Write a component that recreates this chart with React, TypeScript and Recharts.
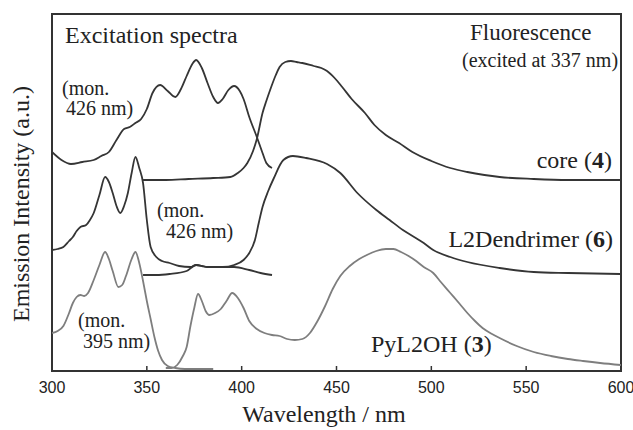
import React from 'react';
import { LineChart, Line, XAxis, YAxis, Customized, ReferenceLine } from 'recharts';

// Wavelength (nm), intensity (a.u., offset traces)
const coreExcitation: number[][] = [
  [300, 219], [305, 211], [310, 207], [316, 209], [322, 211], [326, 215], [330, 219], [334, 231],
  [338, 242], [341, 244], [344, 248], [347, 252], [350, 262], [353, 278], [357, 286], [361, 280],
  [365, 274], [368, 282], [371, 295], [374, 307], [376, 311], [379, 303], [382, 288], [385, 274],
  [387.5, 268], [390, 272], [393, 281], [396, 285], [399, 280], [401, 272], [404, 254], [408, 234],
  [411, 218], [413, 208], [416, 203],
];
const coreFluorescence: number[][] = [
  [348, 191], [360, 191], [372, 192], [385, 193], [394, 194], [398, 198], [401, 203], [403, 208],
  [406, 220], [408, 232], [411, 258], [413, 270], [415, 281], [418, 296], [420, 304], [423, 309],
  [426, 310], [429, 309], [432, 308], [438, 305], [442, 303], [445, 300], [449, 293], [453, 284],
  [458, 272], [465, 258], [470, 246], [476, 236], [483, 228], [490, 219], [500, 210], [510, 203],
  [519, 199], [528, 196], [536, 194], [554, 192], [572, 191], [600, 191],
];
const dendExcitation: number[][] = [
  [300, 121], [303, 122], [306, 124], [309, 130], [311, 134], [313, 140], [315, 144], [318, 146],
  [320, 151], [322, 158], [325, 176], [328, 194], [330, 189], [332, 178], [334, 165], [336, 158],
  [338, 165], [340, 178], [342, 198], [344, 214], [346, 203], [348, 188], [350, 151], [352, 124],
  [355, 114], [358, 110], [362, 108], [367, 105], [373, 104], [376, 106], [379, 105], [382, 104],
  [390, 104], [396, 104], [404, 101], [410, 98], [416, 96],
];
const dendFluorescence: number[][] = [
  [348, 96], [355, 96], [362, 97], [371, 100], [376, 106], [382, 104], [390, 104], [396, 106],
  [401, 111], [404, 118], [407, 131], [409, 148], [411, 164], [414, 180], [417, 193], [422, 211],
  [427, 215], [434, 213], [445, 207], [452, 198], [461, 178], [471, 161], [478, 151], [485, 141],
  [496, 128], [501, 121], [510, 114], [519, 109], [536, 103], [554, 99], [572, 98], [600, 97],
];
const pyExcitation: number[][] = [
  [300, 38], [303, 40], [306, 45], [309, 58], [311, 68], [313, 74], [315, 76], [317, 75],
  [319, 78], [322, 91], [325, 106], [328, 119], [330, 112], [332, 100], [335, 84], [337, 86],
  [339, 95], [342, 112], [344, 119], [346, 108], [348, 90], [350, 70], [352, 52], [354, 34],
  [356, 20], [358, 11], [361, 5], [365, 3], [370, 2], [378, 2], [385, 2],
];
const pyFluorescence: number[][] = [
  [360, 3], [363, 3], [366, 6], [369, 15], [371, 24], [373, 45], [375, 63], [377, 77],
  [379, 70], [381, 60], [383, 56], [386, 58], [389, 62], [392, 70], [395, 78], [398, 73],
  [401, 63], [404, 50], [408, 42], [412, 38], [416, 36], [420, 35], [424, 32], [428, 31],
  [432, 32], [436, 38], [440, 50], [444, 65], [448, 82], [452, 95], [457, 105], [462, 112],
  [466, 116], [471, 120], [476, 122], [480, 122], [484, 119], [488, 115], [492, 110], [496, 104],
  [501, 98], [505, 89], [510, 78], [515, 67], [519, 58], [523, 50], [527, 43], [532, 37],
  [536, 33], [545, 25], [554, 19], [563, 15], [572, 12], [580, 10], [589, 8], [600, 6],
];
const xTicks = [300, 350, 400, 450, 500, 550, 600];
const innerTicks = [350, 400, 450, 500, 550];
const Y_MAX = 357;
const TICK_LEN = 5;

const toPoints = (a: number[][]) => a.map(([x, y]) => ({ x, y }));

const W = 633;
const H = 430;
const MARGIN = { top: 14, right: 12, bottom: 29, left: 52 };
const XAXIS_H = 30;

const DARK = '#353535';
const LIGHT = '#7e7e7e';
const FRAME = '#333333';
const SERIF = "'Liberation Serif', 'Times New Roman', 'DejaVu Serif', serif";
const SANS = "'Liberation Sans', Arial, 'DejaVu Sans', sans-serif";

const series = [
  { name: 'coreExc', data: toPoints(coreExcitation), color: DARK },
  { name: 'coreFl', data: toPoints(coreFluorescence), color: DARK },
  { name: 'dendExc', data: toPoints(dendExcitation), color: DARK },
  { name: 'dendFl', data: toPoints(dendFluorescence), color: DARK },
  { name: 'pyExc', data: toPoints(pyExcitation), color: LIGHT },
  { name: 'pyFl', data: toPoints(pyFluorescence), color: LIGHT },
];

const Tick = (props: any) => {
  const { x, y, payload } = props;
  return (
    <text x={x} y={y + 22} textAnchor="middle" fontFamily={SANS} fontSize={16} fill="#222" stroke="none">
      {payload.value}
    </text>
  );
};

const Annotations = () => {
  const fx = MARGIN.left;
  const fy = MARGIN.top;
  const fw = W - MARGIN.left - MARGIN.right;
  const fh = H - MARGIN.top - MARGIN.bottom - XAXIS_H;
  return (
    <g>
      <rect x={fx} y={fy} width={fw} height={fh} fill="none" stroke={FRAME} strokeWidth={2} />
      <g fill="#222" style={{ fontFamily: SERIF }}>
        <text x={65} y={43} fontSize={24}>Excitation spectra</text>
        <text x={470} y={40} fontSize={23}>Fluorescence</text>
        <text x={462} y={67} fontSize={20}>(excited at 337 nm)</text>
        <text x={612} y={168} fontSize={24} textAnchor="end">core (<tspan fontWeight="bold">4</tspan>)</text>
        <text x={613} y={247} fontSize={24} textAnchor="end">L2Dendrimer (<tspan fontWeight="bold">6</tspan>)</text>
        <text x={371} y={352} fontSize={24}>PyL2OH (<tspan fontWeight="bold">3</tspan>)</text>
        <text x={62} y={95} fontSize={20}>(mon.</text>
        <text x={66} y={115} fontSize={20}>426 nm)</text>
        <text x={157} y={217} fontSize={20}>(mon.</text>
        <text x={166} y={238} fontSize={20}>426 nm)</text>
        <text x={78} y={327} fontSize={20}>(mon.</text>
        <text x={83} y={348} fontSize={20}>395 nm)</text>
        <text x={324} y={422} fontSize={24} textAnchor="middle">Wavelength / nm</text>
        <text x={29} y={204} fontSize={24} textAnchor="middle" transform="rotate(-90 29 204)">
          Emission Intensity (a.u.)
        </text>
      </g>
    </g>
  );
};

export default function App() {
  return (
    <div style={{ position: 'absolute', left: 0, top: 0, background: '#fff' }}>
      <LineChart width={W} height={H} margin={MARGIN}>
        <XAxis
          type="number"
          dataKey="x"
          domain={[300, 600]}
          ticks={xTicks}
          interval={0}
          allowDataOverflow
          axisLine={false}
          tickLine={false}
          tickSize={0}
          tickMargin={0}
          height={XAXIS_H}
          tick={<Tick />}
        />
        <YAxis type="number" domain={[0, Y_MAX]} allowDataOverflow hide />
        {innerTicks.map((t) => (
          <ReferenceLine
            key={`tick-${t}`}
            segment={[{ x: t, y: 0 }, { x: t, y: TICK_LEN }]}
            stroke={FRAME}
            strokeWidth={1.5}
            ifOverflow="visible"
          />
        ))}
        {series.map((s) => (
          <Line
            key={s.name}
            data={s.data}
            dataKey="y"
            type="monotone"
            dot={false}
            activeDot={false}
            stroke={s.color}
            strokeWidth={1.8}
            isAnimationActive={false}
          />
        ))}
        <Customized component={Annotations} />
      </LineChart>
    </div>
  );
}
